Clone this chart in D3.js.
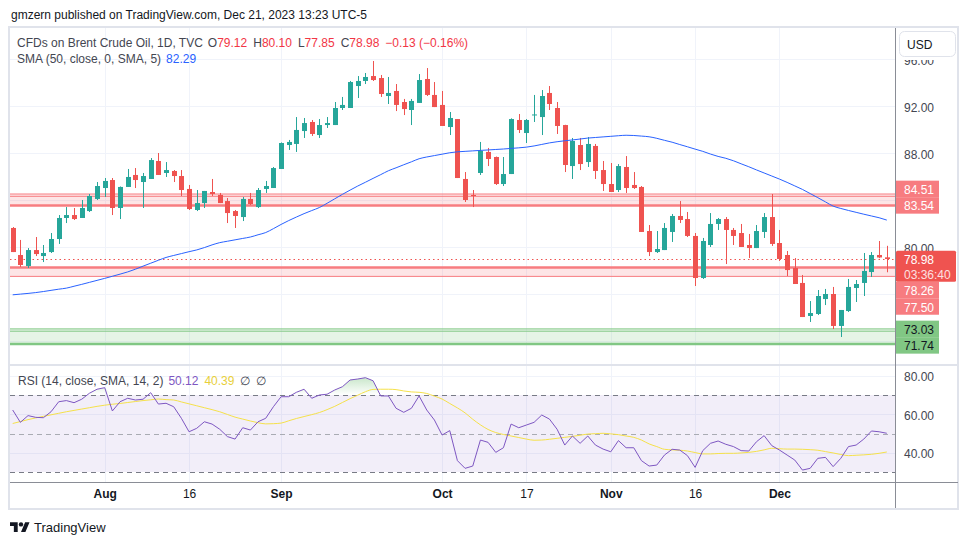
<!DOCTYPE html>
<html>
<head>
<meta charset="utf-8">
<script src="https://cdn.jsdelivr.net/npm/d3@7"></script>
<style>
  body { margin: 0; background: #fff; }
  svg text { font-family: "Liberation Sans", Arial, sans-serif; }
</style>
</head>
<body>
<svg id="chart" width="970" height="545"></svg>
<script>
// daily candles, Jul 14 -> Dec 21 2023
const open = [81.62,79.32,78.38,79.74,79.23,79.57,80.68,82.47,82.72,82.47,
  83.06,84.09,85.02,85.70,83.32,85.11,86.13,85.53,85.79,87.32,
  86.30,86.47,86.04,84.94,83.15,83.74,84.68,84.43,83.91,83.06,
  82.55,84.09,83.40,84.94,85.02,86.64,88.68,88.77,89.87,90.64,
  89.53,90.38,90.38,91.83,91.83,93.70,94.13,94.55,94.38,92.85,
  93.28,92.34,91.66,92.26,94.30,92.94,92.09,90.21,90.89,85.79,
  84.43,86.30,88.09,87.66,85.36,86.21,90.81,89.70,91.23,91.06,
  93.11,91.83,90.38,86.89,88.68,87.23,88.60,86.55,85.36,84.85,
  86.81,85.28,85.11,81.36,79.57,79.74,81.28,82.64,82.38,80.94,
  77.36,80.17,81.96,82.38,81.45,81.19,80.17,79.91,81.28,82.55,
  80.34,79.32,78.21,76.94,74.13,74.30,75.57,76.00,73.28,74.55,
  76.51,76.94,77.87,79.32,79.12];
const high = [81.70,80.60,79.91,80.85,80.17,81.19,82.72,83.40,83.32,84.00,
  84.51,85.53,85.87,85.87,85.15,86.64,86.72,86.30,87.57,88.00,
  87.23,86.55,86.55,85.28,84.85,84.77,85.79,84.60,84.17,83.15,
  84.26,84.60,85.02,85.62,86.81,88.90,89.11,91.06,90.98,90.81,
  90.89,91.06,92.34,92.77,94.13,94.55,94.81,95.83,94.64,94.47,
  93.87,92.60,92.60,94.72,95.23,94.04,93.28,91.49,90.89,86.38,
  84.85,88.94,88.43,87.70,87.66,90.95,91.32,90.89,92.94,93.36,
  93.70,92.34,90.40,89.28,89.28,89.36,88.77,87.32,87.15,87.06,
  87.74,86.38,85.19,81.87,81.36,82.04,82.81,83.91,82.98,81.19,
  80.77,82.89,82.47,82.55,81.62,81.96,81.11,81.87,82.89,84.51,
  81.45,79.66,79.06,77.62,75.40,76.34,76.43,76.60,74.64,77.28,
  77.19,79.49,79.57,80.51,80.10];
const low = [79.57,78.30,78.21,79.23,78.72,79.49,80.26,82.04,82.30,82.47,
  82.98,84.00,84.26,82.72,82.38,85.11,85.02,83.32,85.79,86.13,
  85.96,85.53,84.34,83.15,83.06,83.32,84.34,83.74,82.04,81.62,
  82.21,83.57,83.32,84.60,85.02,86.64,88.26,88.09,89.28,89.45,
  89.28,90.13,90.38,91.66,91.83,92.68,93.87,94.13,92.77,92.17,
  91.57,91.23,90.38,92.26,92.85,91.91,90.30,89.53,85.87,83.83,
  83.40,86.13,86.89,85.28,85.19,86.21,89.70,88.85,90.64,89.53,
  91.66,89.62,86.38,85.79,86.55,86.81,85.79,84.77,84.68,84.68,
  84.60,84.94,81.28,79.23,79.49,79.74,80.43,82.04,80.85,76.68,
  77.28,80.00,81.45,78.55,80.17,80.00,79.06,79.91,80.77,80.09,
  78.81,77.53,76.85,74.04,73.62,74.21,75.06,73.02,72.34,74.47,
  75.32,75.83,77.45,79.05,77.85];
const close = [79.57,78.47,79.74,79.40,79.49,80.68,82.47,82.72,82.38,83.32,
  84.34,85.19,85.62,83.32,85.11,85.96,85.70,86.04,87.40,86.13,
  86.55,86.04,84.85,83.23,83.74,84.77,84.51,83.74,82.89,82.64,
  84.09,83.66,84.85,85.19,86.72,88.85,88.94,89.96,90.55,89.62,
  90.38,90.55,91.83,92.09,94.04,94.13,94.47,94.21,93.02,93.11,
  92.09,91.74,92.43,94.21,92.94,91.91,90.30,90.98,85.87,84.00,
  84.34,88.17,87.49,85.36,86.21,90.89,89.96,90.81,91.28,92.85,
  92.17,90.30,86.98,89.02,87.06,88.77,86.47,85.36,84.68,86.89,
  85.02,85.02,81.28,79.57,79.83,81.62,82.64,82.30,80.94,77.36,
  80.51,81.96,82.38,81.45,80.94,80.00,79.91,81.36,82.55,80.26,
  78.98,78.04,76.85,74.04,74.38,75.83,76.00,73.28,74.64,76.60,
  76.85,77.96,79.32,79.11,78.98];

const sma50 = [75.93,75.99,76.05,76.12,76.21,76.31,76.41,76.50,76.66,76.82,
  76.99,77.16,77.33,77.51,77.69,77.88,78.11,78.37,78.62,78.87,
  79.11,79.28,79.44,79.60,79.75,79.95,80.18,80.37,80.49,80.61,
  80.73,80.85,81.04,81.23,81.56,81.92,82.25,82.55,82.84,83.10,
  83.36,83.72,84.10,84.48,84.84,85.19,85.51,85.84,86.16,86.49,
  86.74,87.00,87.25,87.51,87.66,87.78,87.90,88.02,88.10,88.14,
  88.18,88.22,88.26,88.30,88.34,88.39,88.44,88.50,88.60,88.73,
  88.86,88.96,89.04,89.11,89.19,89.27,89.32,89.37,89.42,89.47,
  89.51,89.49,89.44,89.38,89.25,89.08,88.92,88.72,88.53,88.33,
  88.14,87.91,87.71,87.55,87.34,87.08,86.83,86.56,86.30,86.04,
  85.78,85.50,85.20,84.90,84.55,84.20,83.84,83.48,83.28,83.11,
  82.95,82.79,82.64,82.49,82.29];

const rsi = [62.2,55.8,59.3,58.4,58.2,61.3,66.5,67.1,66.0,67.8,
  70.9,73.0,73.8,61.7,66.5,68.3,67.4,67.8,71.2,65.3,
  65.7,63.9,57.9,50.9,52.7,56.1,54.9,52.2,48.4,47.1,
  53.0,51.8,56.1,57.9,63.9,69.1,69.1,71.4,73.0,68.3,
  70.0,70.4,72.6,74.3,77.8,78.3,79.0,77.4,69.5,69.5,
  63.1,61.0,63.1,69.5,62.2,57.0,49.2,51.5,35.9,31.9,
  33.1,46.6,45.4,40.2,42.6,54.9,53.0,54.4,55.8,59.6,
  57.5,52.2,44.0,48.7,44.9,48.7,44.0,41.9,40.5,46.3,
  42.6,42.6,35.9,33.1,33.6,38.8,41.8,41.4,38.5,32.4,
  41.1,44.9,46.1,44.4,43.2,41.1,40.9,45.7,48.9,43.7,
  41.4,38.8,36.2,31.0,31.9,37.1,37.6,32.8,37.1,43.2,
  44.0,47.1,51.3,50.9,50.12];
const rsiMa = [55.2,56.2,57.2,58.1,58.9,59.7,60.5,61.3,62.0,62.7,
  63.4,64.1,64.7,65.2,65.6,66.1,66.6,67.1,67.5,67.9,
  67.6,67.4,66.4,65.4,64.4,63.4,62.4,61.3,59.9,58.5,
  57.5,56.5,55.6,55.0,55.1,55.4,56.6,57.8,58.8,59.8,
  60.9,62.4,64.1,66.1,68.1,69.9,71.7,72.9,73.0,73.0,
  72.8,72.1,71.6,71.4,70.8,69.4,67.9,65.6,63.3,60.7,
  57.4,54.5,52.1,50.5,49.5,48.7,47.9,47.1,46.5,46.6,
  47.0,47.5,48.0,48.5,49.1,49.7,49.9,50.1,49.8,49.4,
  48.7,48.0,46.6,44.6,43.2,41.8,41.5,41.3,40.9,40.1,
  39.4,39.4,39.6,39.7,39.7,39.9,40.2,40.7,41.5,42.3,
  42.1,41.9,41.9,41.8,41.6,41.3,40.6,39.9,39.1,38.5,
  38.7,38.9,39.2,39.7,40.39];

const tickIndex = [12, 23, 35, 56, 67, 78, 89, 100];
const tickLabel = ["Aug", "16", "Sep", "Oct", "17", "Nov", "16", "Dec"];
const priceTicks = [72, 76, 80, 84, 88, 92, 96];
const rsiTicks = [40, 60, 80];
const rsiLevels = [70, 50, 30];
const zoneTop = [84.51, 78.26, 73.03];
const zoneBottom = [83.54, 77.50, 71.74];
const lastPrice = 78.98;
const countdown = "03:36:40";

const n = close.length;
const svg = d3.select("#chart");
const defs = svg.append("defs");

const plotL = 10, plotR = 895;
const x = d3.scaleLinear().domain([0, n - 1]).range([12.7, 886.8]);
const y = d3.scaleLinear().domain([72, 96]).range([341, 59]);
const yR = d3.scaleLinear().domain([30, 70]).range([472, 395]);
const px = v => Math.round(v) + 0.5;

defs.append("clipPath").attr("id", "cp").append("rect")
  .attr("x", plotL).attr("y", 28).attr("width", plotR - plotL).attr("height", 336);
defs.append("clipPath").attr("id", "cr").append("rect")
  .attr("x", plotL).attr("y", 366).attr("width", plotR - plotL).attr("height", 116);

const grad = defs.append("linearGradient").attr("id", "ob")
  .attr("gradientUnits", "userSpaceOnUse")
  .attr("x1", 0).attr("x2", 0).attr("y1", yR(100)).attr("y2", yR(70));
grad.append("stop").attr("offset", 0).attr("stop-color", "#4caf50").attr("stop-opacity", 1);
grad.append("stop").attr("offset", 1).attr("stop-color", "#4caf50").attr("stop-opacity", 0);

// header
svg.append("text").attr("x", 11).attr("y", 19).attr("font-size", 12).attr("fill", "#131722")
  .text("gmzern published on TradingView.com, Dec 21, 2023 13:23 UTC-5");

// grid
const grid = svg.append("g").attr("stroke", "#f0f3fa").attr("stroke-width", 1);
grid.selectAll(".v").data(tickIndex).join("line")
  .attr("x1", d => px(x(d))).attr("x2", d => px(x(d))).attr("y1", 28).attr("y2", 482);
grid.selectAll(".h").data(priceTicks).join("line")
  .attr("x1", plotL).attr("x2", plotR).attr("y1", d => px(y(d))).attr("y2", d => px(y(d)));
grid.selectAll(".r").data(rsiTicks).join("line")
  .attr("x1", plotL).attr("x2", plotR).attr("y1", d => px(yR(d))).attr("y2", d => px(yR(d)));

// ---- price pane
const pane = svg.append("g").attr("clip-path", "url(#cp)");

const zoneLine = ["#f77c80", "#f77c80", "#81c784"];
const zoneFill = ["rgba(247,124,128,0.2)", "rgba(247,124,128,0.2)", "rgba(129,199,132,0.2)"];
zoneTop.forEach((t, i) => {
  const b = zoneBottom[i];
  pane.append("rect").attr("x", plotL).attr("width", plotR - plotL)
    .attr("y", y(t)).attr("height", y(b) - y(t)).attr("fill", zoneFill[i]);
  const thickTop = i === 1;
  pane.append("line").attr("x1", plotL).attr("x2", plotR)
    .attr("y1", y(t)).attr("y2", y(t))
    .attr("stroke", zoneLine[i]).attr("stroke-width", thickTop ? 2.5 : 1);
  if (!thickTop) {
    pane.append("line").attr("x1", plotL).attr("x2", plotR)
      .attr("y1", y(t) + 2.3).attr("y2", y(t) + 2.3)
      .attr("stroke", zoneLine[i]).attr("stroke-width", 1);
  }
  pane.append("line").attr("x1", plotL).attr("x2", plotR)
    .attr("y1", y(b)).attr("y2", y(b))
    .attr("stroke", zoneLine[i]).attr("stroke-width", thickTop ? 1 : 2.5);
});

// last price dotted line
pane.append("line").attr("x1", plotL).attr("x2", plotR)
  .attr("y1", px(y(lastPrice))).attr("y2", px(y(lastPrice)))
  .attr("stroke", "#ef5350").attr("stroke-dasharray", "1.5,3");

// candles
const up = "#26a69a", dn = "#ef5350";
const candles = pane.append("g").selectAll("g").data(d3.range(n)).join("g");
candles.append("rect")
  .attr("x", i => Math.round(x(i)))
  .attr("width", 1)
  .attr("y", i => y(high[i]))
  .attr("height", i => Math.max(1, y(low[i]) - y(high[i])))
  .attr("fill", i => close[i] >= open[i] ? up : dn);
candles.append("rect")
  .attr("x", i => Math.round(x(i)) - 2)
  .attr("width", 5)
  .attr("y", i => y(Math.max(open[i], close[i])))
  .attr("height", i => Math.max(1, Math.abs(y(open[i]) - y(close[i]))))
  .attr("fill", i => close[i] >= open[i] ? up : dn);

// SMA 50
pane.append("path").datum(sma50)
  .attr("d", d3.line().x((d, i) => x(i)).y(d => y(d)).curve(d3.curveMonotoneX))
  .attr("fill", "none").attr("stroke", "#2962ff").attr("stroke-width", 1);

// ---- RSI pane
const rp = svg.append("g").attr("clip-path", "url(#cr)");
rp.append("rect").attr("x", plotL).attr("width", plotR - plotL)
  .attr("y", yR(70)).attr("height", yR(30) - yR(70)).attr("fill", "rgba(126,87,194,0.1)");
rp.selectAll(".lvl").data(rsiLevels).join("line")
  .attr("x1", plotL).attr("x2", plotR)
  .attr("y1", d => px(yR(d))).attr("y2", d => px(yR(d)))
  .attr("stroke", d => d === 50 ? "#a9abb3" : "#787b86")
  .attr("stroke-dasharray", "5,4");
rp.append("path").datum(rsi)
  .attr("d", d3.area().x((d, i) => x(i)).y0(yR(70)).y1(d => yR(Math.max(d, 70))))
  .attr("fill", "url(#ob)");
rp.append("path").datum(rsiMa)
  .attr("d", d3.line().x((d, i) => x(i)).y(d => yR(d)).curve(d3.curveMonotoneX))
  .attr("fill", "none").attr("stroke", "#f5e14a").attr("stroke-width", 1);
rp.append("path").datum(rsi)
  .attr("d", d3.line().x((d, i) => x(i)).y(d => yR(d)))
  .attr("fill", "none").attr("stroke", "#7e57c2").attr("stroke-width", 1);

// ---- frame and separators
svg.append("line").attr("x1", 9).attr("x2", 958).attr("y1", 365).attr("y2", 365)
  .attr("stroke", "#e0e3eb").attr("stroke-width", 2);
svg.append("rect").attr("x", 9).attr("y", 27).attr("width", 949).attr("height", 482)
  .attr("fill", "none").attr("stroke", "#e0e3eb").attr("stroke-width", 2);
svg.append("line").attr("x1", 895.5).attr("x2", 895.5).attr("y1", 28).attr("y2", 508)
  .attr("stroke", "#8a8d96");
svg.append("line").attr("x1", 10).attr("x2", 958).attr("y1", 482.5).attr("y2", 482.5)
  .attr("stroke", "#8a8d96");

// ---- price labels on the axis (stacked so they do not overlap)
const lh = 16.5;
const mainTop = y(lastPrice) - lh / 2, mainBottom = mainTop + 31;
const labels = [];
zoneTop.forEach((t, i) => {
  labels.push({ v: t, z: i });
  labels.push({ v: zoneBottom[i], z: i });
});
let limit = mainTop;
labels.filter(l => y(l.v) < y(lastPrice)).sort((a, b) => y(b.v) - y(a.v)).forEach(l => {
  l.c = Math.min(y(l.v), limit - lh / 2);
  limit = l.c - lh / 2;
});
limit = mainBottom;
labels.filter(l => y(l.v) > y(lastPrice)).sort((a, b) => y(a.v) - y(b.v)).forEach(l => {
  l.c = Math.max(y(l.v), limit + lh / 2);
  limit = l.c + lh / 2;
});

// ---- axes (tick labels hidden where a price label covers them)
const fmt = d3.format(".2f");
const covered = v => labels.some(l => Math.abs(y(v) - l.c) < lh / 2 + 5);
const ya = svg.append("g").attr("transform", `translate(${plotR},0)`)
  .call(d3.axisRight(y).tickValues(priceTicks.filter(v => !covered(v)))
    .tickFormat(fmt).tickSize(0).tickPadding(9));
const ra = svg.append("g").attr("transform", `translate(${plotR},0)`)
  .call(d3.axisRight(yR).tickValues(rsiTicks).tickFormat(fmt).tickSize(0).tickPadding(9));
const xa = svg.append("g").attr("transform", "translate(0,482)")
  .call(d3.axisBottom(x).tickValues(tickIndex).tickFormat((d, i) => tickLabel[i]).tickSize(0).tickPadding(7));
[ya, ra, xa].forEach(g => {
  g.select(".domain").remove();
  g.selectAll("text").attr("font-size", 12).attr("fill", "#434651")
    .attr("font-family", "'Liberation Sans', Arial, sans-serif");
});
ya.selectAll("text").attr("dy", "0.42em");
ra.selectAll("text").attr("dy", "0.42em");
xa.selectAll("text").attr("fill", "#131722")
  .attr("font-weight", (d, i) => isNaN(+tickLabel[i]) ? "bold" : "normal");

// USD button (covers the top of the 96.00 label)
svg.append("rect").attr("x", 896).attr("y", 28).attr("width", 61).attr("height", 32).attr("fill", "#fff");
svg.append("rect").attr("x", 899.5).attr("y", 31.5).attr("width", 56).attr("height", 25).attr("rx", 5)
  .attr("fill", "#fff").attr("stroke", "#e0e3eb");
svg.append("text").attr("x", 907).attr("y", 48.5).attr("font-size", 12).attr("fill", "#131722").text("USD");

const lab = svg.append("g");
lab.selectAll("rect").data(labels).join("rect")
  .attr("x", 896).attr("width", 43)
  .attr("y", d => d.c - lh / 2).attr("height", lh)
  .attr("fill", d => zoneLine[d.z]);
lab.selectAll("text").data(labels).join("text")
  .attr("x", 904).attr("y", d => d.c).attr("dy", "0.42em")
  .attr("font-size", 12)
  .attr("fill", d => d.z === 2 ? "#131722" : "#fff")
  .text(d => fmt(d.v));

svg.append("rect").attr("x", 896).attr("y", mainTop).attr("width", 60).attr("height", 31)
  .attr("rx", 1.5).attr("fill", "#ef5350");
svg.append("text").attr("x", 904).attr("y", y(lastPrice)).attr("dy", "0.42em")
  .attr("font-size", 12).attr("fill", "#fff").text(fmt(lastPrice));
svg.append("text").attr("x", 904).attr("y", y(lastPrice) + 14.5).attr("dy", "0.42em")
  .attr("font-size", 12).attr("fill", "#fde0e0").text(countdown);

// ---- legends
function legend(yy, parts) {
  const t = svg.append("text").attr("x", 17).attr("y", yy).attr("font-size", 12);
  parts.forEach(p => t.append("tspan").attr("dx", p[2] || 0).attr("fill", p[1]).text(p[0]));
}
const grey = "#434651", red = "#f23645";
legend(46.5, [
  ["CFDs on Brent Crude Oil, 1D, TVC", grey],
  ["O", grey, 5], [fmt(open[n - 1]), red],
  ["H", grey, 6], [fmt(high[n - 1]), red],
  ["L", grey, 6], [fmt(low[n - 1]), red],
  ["C", grey, 6], [fmt(close[n - 1]), red],
  ["\u22120.13 (\u22120.16%)", red, 6]
]);
legend(63, [
  ["SMA (50, close, 0, SMA, 5)", grey],
  [fmt(sma50[n - 1]), "#2962ff", 5]
]);
const rl = svg.append("text").attr("x", 18).attr("y", 385).attr("font-size", 12);
rl.append("tspan").attr("fill", grey).text("RSI (14, close, SMA, 14, 2)");
rl.append("tspan").attr("dx", 5).attr("fill", "#7e57c2").text(fmt(rsi[n - 1]));
rl.append("tspan").attr("dx", 6).attr("fill", "#e8cf3a").text(fmt(rsiMa[n - 1]));
rl.append("tspan").attr("dx", 6).attr("fill", grey).text("\u2205");
rl.append("tspan").attr("dx", 6).attr("fill", grey).text("\u2205");

// ---- TradingView logo
const logo = svg.append("g").attr("transform", "translate(10,520) scale(0.55)").attr("fill", "#131722");
logo.append("path").attr("d", "M14 22H7V11H0V4h14v18zM28 22h-8l7.5-18h8L28 22z");
logo.append("circle").attr("cx", 20).attr("cy", 8).attr("r", 4);
svg.append("text").attr("x", 34).attr("y", 532).attr("font-size", 13).attr("fill", "#131722")
  .text("TradingView");
</script>
</body>
</html>
